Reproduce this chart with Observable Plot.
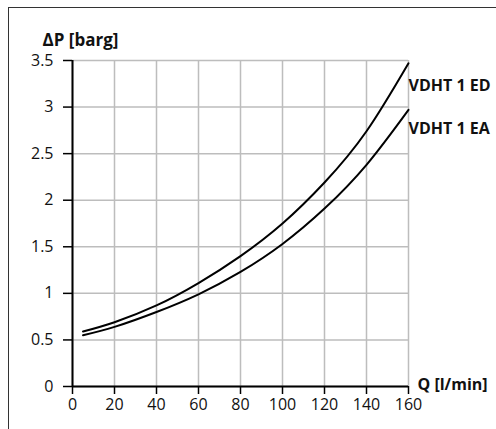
<!DOCTYPE html>
<html>
<head>
<meta charset="utf-8">
<script src="https://cdn.jsdelivr.net/npm/d3@7"></script>
<script src="https://cdn.jsdelivr.net/npm/@observablehq/plot@0.6"></script>
<style>
  html, body { margin: 0; padding: 0; background: #fff; }
  #wrap { position: relative; width: 496px; height: 429px; overflow: hidden; }
  #frame { position: absolute; left: 8px; top: 7px; width: 500px; height: 440px;
           border-top: 1px solid #333; border-left: 1px solid #333; box-sizing: border-box; }
  #chart { position: absolute; left: 0; top: 0; }
</style>
</head>
<body>
<div id="wrap"><div id="frame"></div><div id="chart"></div></div>
<script>
const flow = [5, 20, 40, 60, 80, 100, 120, 140, 160];
const dpED = [0.59, 0.69, 0.87, 1.11, 1.40, 1.75, 2.19, 2.74, 3.47];
const dpEA = [0.55, 0.64, 0.80, 0.99, 1.23, 1.53, 1.91, 2.38, 2.97];
const seriesNames = ["VDHT 1 ED", "VDHT 1 EA"];
const labelY = [3.23, 2.77];
const xTicks = [0, 20, 40, 60, 80, 100, 120, 140, 160];
const yTicks = [0, 0.5, 1, 1.5, 2, 2.5, 3, 3.5];
const xTitle = "Q [l/min]";
const yTitle = "ΔP [barg]";

const rows = [];
flow.forEach((q, i) => {
  rows.push({series: seriesNames[0], q, dp: dpED[i]});
  rows.push({series: seriesNames[1], q, dp: dpEA[i]});
});
const labels = seriesNames.map((s, i) => ({s, q: 160, dp: labelY[i]}));

const font = "'Open Sans', sans-serif";
const chart = Plot.plot({
  width: 496,
  height: 429,
  marginLeft: 72,
  marginRight: 88,
  marginTop: 60,
  marginBottom: 43,
  style: {fontFamily: font, background: "transparent", overflow: "visible"},
  x: {domain: [0, 160], ticks: xTicks},
  y: {domain: [0, 3.5], ticks: yTicks},
  marks: [
    Plot.gridX(xTicks, {stroke: "#bdbdbd", strokeOpacity: 1, strokeWidth: 1.5}),
    Plot.gridY(yTicks, {stroke: "#bdbdbd", strokeOpacity: 1, strokeWidth: 1.5}),
    Plot.axisX({ticks: xTicks, tickSize: 8, tickPadding: 4, fontSize: 16, label: null, stroke: "#000", strokeWidth: 1.5, color: "#111"}),
    Plot.axisY({ticks: yTicks, tickSize: 9, tickPadding: 10, fontSize: 16, label: null, stroke: "#000", strokeWidth: 1.5, color: "#111", tickFormat: d => String(d)}),
    Plot.ruleX([0], {stroke: "#000", strokeWidth: 2}),
    Plot.ruleY([0], {stroke: "#000", strokeWidth: 2}),
    Plot.line(rows, {x: "q", y: "dp", z: "series", stroke: "#000", strokeWidth: 2, curve: "natural"}),
    Plot.text(labels, {x: "q", y: "dp", text: "s", textAnchor: "start", dx: 0, fontSize: 16, fontWeight: "bold", fill: "#111"}),
    Plot.text([xTitle], {x: 160, y: 0, text: d => d, textAnchor: "start", dx: 9, dy: -2, fontSize: 16, fontWeight: "bold", fill: "#111"}),
    Plot.text([yTitle], {frameAnchor: "top-left", text: d => d, textAnchor: "start", dx: -30, dy: -27, fontSize: 17, fontWeight: "bold", fill: "#111"})
  ]
});
document.getElementById("chart").appendChild(chart);
</script>
</body>
</html>
